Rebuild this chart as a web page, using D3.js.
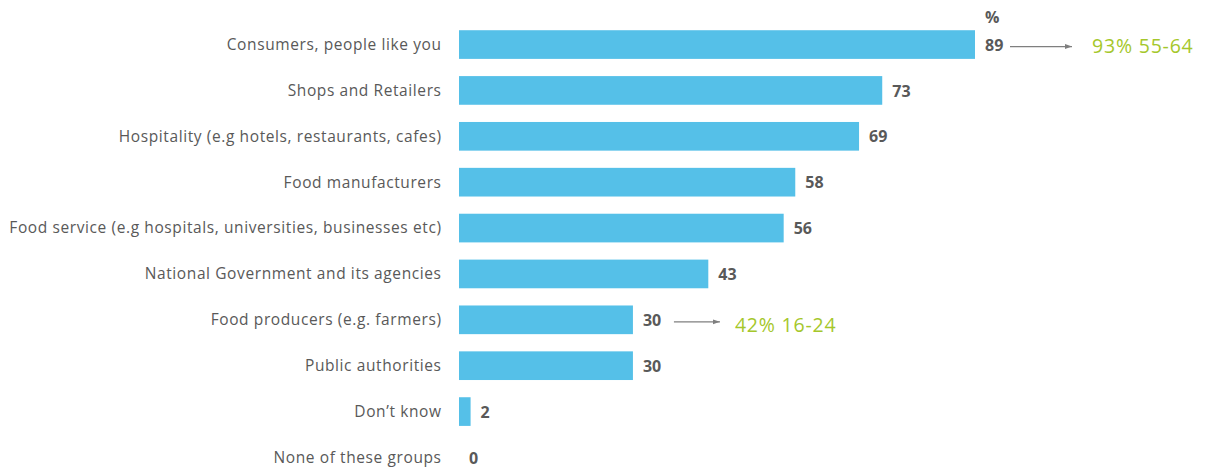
<!DOCTYPE html>
<html>
<head>
<meta charset="utf-8">
<script src="https://cdn.jsdelivr.net/npm/d3@7"></script>
<style>
  html, body { margin: 0; padding: 0; background: #fff; }
  svg { display: block; }
</style>
</head>
<body>
<svg id="chart" width="1206" height="468"></svg>
<script>
// Groups responsible, share of respondents (%)
const categories = [
  "Consumers, people like you",
  "Shops and Retailers",
  "Hospitality (e.g hotels, restaurants, cafes)",
  "Food manufacturers",
  "Food service (e.g hospitals, universities, businesses etc)",
  "National Government and its agencies",
  "Food producers (e.g. farmers)",
  "Public authorities",
  "Don\u2019t know",
  "None of these groups"
];
const values = [89, 73, 69, 58, 56, 43, 30, 30, 2, 0];

// Highlighted sub-group call-outs: category they point from, and text
const calloutCategories = ["Consumers, people like you", "Food producers (e.g. farmers)"];
const calloutTexts = ["93% 55-64", "42% 16-24"];

const unitLabel = "%";

const svg = d3.select("#chart");
const font = "'Open Sans', 'DejaVu Sans', sans-serif";

const x = d3.scaleLinear().domain([0, 89]).range([459, 975]);
const y = d3.scaleBand().domain(categories).range([21.5, 480.5]).paddingInner(0.375).paddingOuter(0.19);

// call-out layout: arrow start gap after the bar end, arrow length, text gap, text drop
const calloutStyle = [
  { gap: 35, len: 62, textGap: 20, drop: 0 },
  { gap: 41, len: 46, textGap: 15, drop: 3.5 }
];

svg.append("defs").append("marker")
  .attr("id", "arrowhead")
  .attr("viewBox", "0 0 10 10")
  .attr("refX", 10).attr("refY", 5)
  .attr("markerWidth", 7).attr("markerHeight", 7)
  .attr("markerUnits", "userSpaceOnUse")
  .attr("orient", "auto")
  .append("path").attr("d", "M0,1.5 L10,5 L0,8.5 Z").attr("fill", "#7f7f7f");

const rows = svg.append("g").selectAll("g").data(categories).join("g");

// category labels
rows.append("text")
  .attr("x", 441.6)
  .attr("y", d => y(d) + y.bandwidth() / 2)
  .attr("dy", "0.35em")
  .attr("text-anchor", "end")
  .attr("font-family", font)
  .attr("font-size", 15.5)
  .attr("letter-spacing", 0.6)
  .attr("fill", "#595959")
  .text(d => d);

// bars
rows.append("rect")
  .attr("x", x(0))
  .attr("y", d => y(d))
  .attr("width", (d, i) => x(values[i]) - x(0))
  .attr("height", y.bandwidth())
  .attr("fill", "#55C0E8");

// value labels
rows.append("text")
  .attr("x", (d, i) => x(values[i]) + 10)
  .attr("y", d => y(d) + y.bandwidth() / 2 + 0.5)
  .attr("dy", "0.35em")
  .attr("font-family", font)
  .attr("font-size", 16)
  .attr("font-weight", "bold")
  .attr("fill", "#595959")
  .text((d, i) => values[i]);

// unit header above first bar's value
svg.append("text")
  .attr("x", x(values[0]) + 10)
  .attr("y", y(categories[0]) - 7)
  .attr("font-family", font)
  .attr("font-size", 16)
  .attr("font-weight", "bold")
  .attr("fill", "#595959")
  .text(unitLabel);

// call-outs
calloutCategories.forEach((c, i) => {
  const s = calloutStyle[i];
  const v = values[categories.indexOf(c)];
  const cy = y(c) + y.bandwidth() / 2 + 2;
  const x0 = x(v) + s.gap;
  const x1 = x0 + s.len;
  svg.append("line")
    .attr("x1", x0).attr("x2", x1)
    .attr("y1", cy).attr("y2", cy)
    .attr("stroke", "#7f7f7f").attr("stroke-width", 1.2)
    .attr("marker-end", "url(#arrowhead)");
  svg.append("text")
    .attr("x", x1 + s.textGap)
    .attr("y", cy + s.drop)
    .attr("dy", "0.35em")
    .attr("font-family", font)
    .attr("font-size", 19.5)
    .attr("letter-spacing", 0.8)
    .attr("fill", "#A5C72B")
    .text(calloutTexts[i]);
});
</script>
</body>
</html>
